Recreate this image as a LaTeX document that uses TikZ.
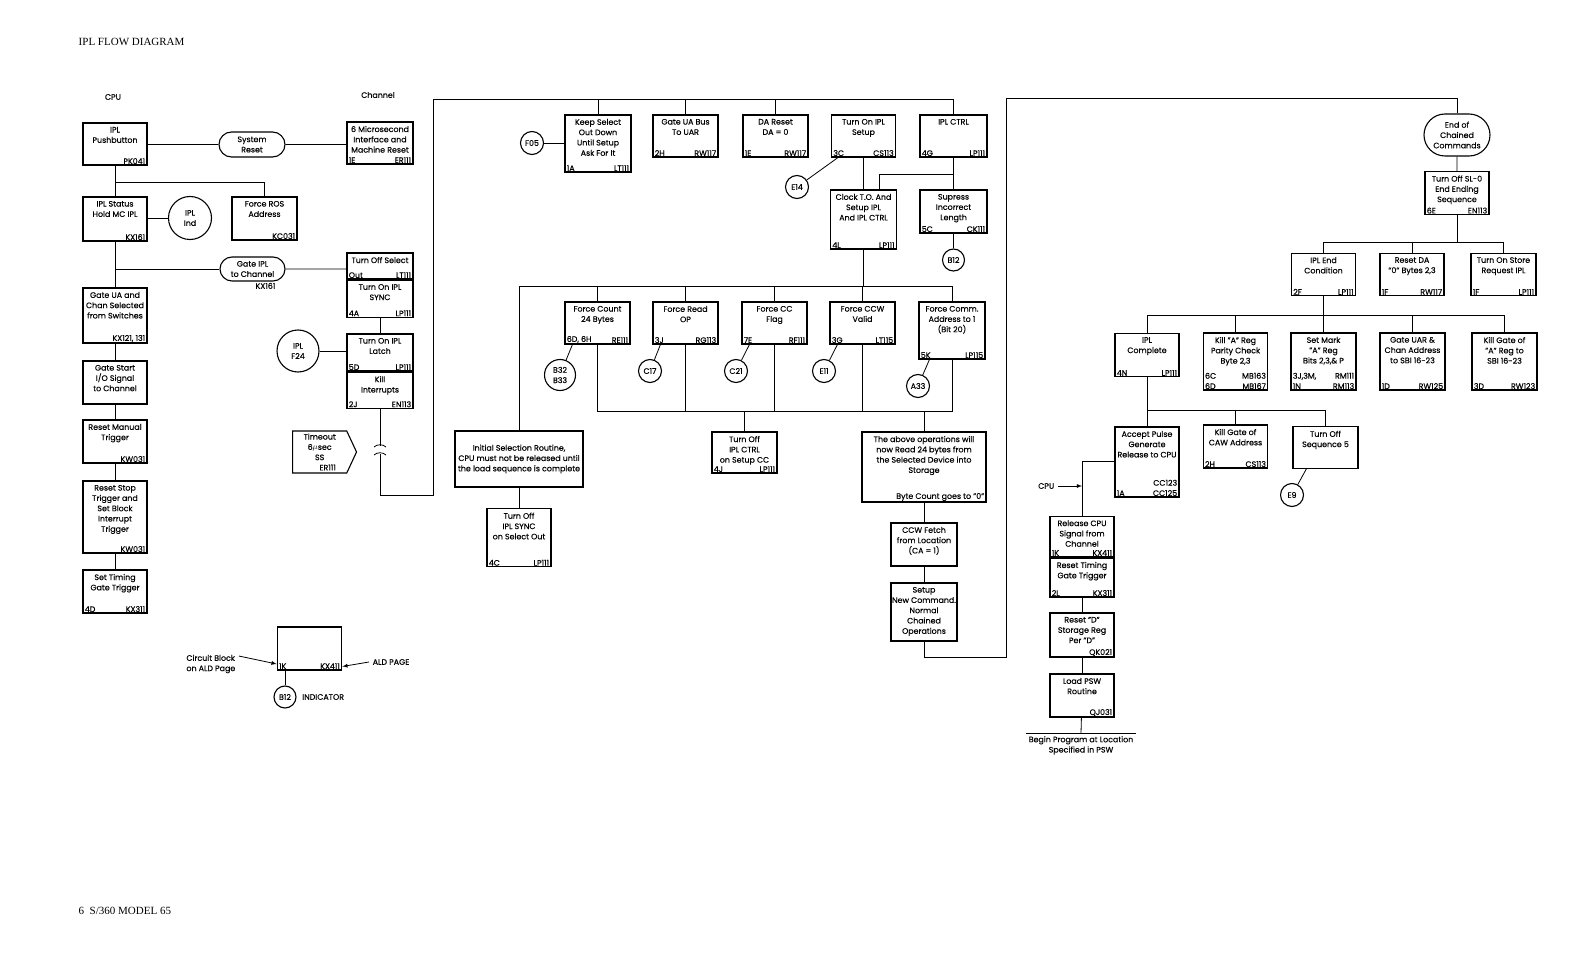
\documentclass[tikz,border=0pt]{standalone}
\usepackage{fontspec}
\setmainfont{Poppins}[FakeBold=0.3]
\newfontfamily\pagefont{Liberation Serif}
\usetikzlibrary{positioning, shapes.misc, shapes.symbols, arrows}

\begin{document}
\begin{tikzpicture}[x=1pt, y=-1pt, line width=0.8pt,
  font=\fontsize{7.9}{10.3}\selectfont,
  blk/.style = {draw, line width=1.2pt, inner sep=0pt},
  bx/.style 2 args = {blk, minimum width=#1, minimum height=#2},
  txt/.style = {anchor=north, align=center, inner sep=1.2pt, yshift=-3pt},
  ltag/.style = {anchor=south west, align=left, inner xsep=2pt, inner ysep=1.2pt},
  rtag/.style = {anchor=south east, align=right, inner xsep=2pt, inner ysep=1.2pt},
  tt/.style = {label={[txt]north:{#1}}},
  tl/.style = {label={[ltag]south west:{#1}}},
  tr/.style = {label={[rtag]south east:{#1}}},
  circ/.style = {draw, circle, line width=1.1pt, minimum size=23pt, inner sep=0pt, align=center},
  oval/.style = {draw, rounded rectangle, line width=1.1pt, inner sep=0pt, align=center}
]
\useasboundingbox (0,0) rectangle (1583,960);

%--- Page texts ---
\node[anchor=west, font=\pagefont\fontsize{11}{13}\selectfont] (title) at (75,41.5) {IPL FLOW DIAGRAM};
\node[anchor=west, font=\pagefont\fontsize{11}{13}\selectfont] (pageNo) at (75,911) {6\enspace S/360 MODEL 65};
\node (cpuHead) at (113,97) {CPU};
\node (chanHead) at (378,95) {Channel};

%--- CPU column ---
% pushbtn
\node[bx={64pt}{42pt}, tt={IPL\\Pushbutton}, tr=PK041] (pushbtn) at (115,144) {};
% iplStatus
\node[bx={64pt}{44pt}, tt={IPL Status\\Hold MC IPL}, tr=KX161] (iplStatus) at (115,219) {};
\node[circ, minimum size=43pt] (iplInd) at (190,218) {IPL\\Ind};
% forceROS
\node[bx={65pt}{43pt}, tt={Force ROS\\Address}, tr=KC031] (forceROS) at (264.5,218.5) {};
% gateUA
\node[bx={64pt}{55pt}, tt={Gate UA and\\Chan Selected\\from Switches}, tr={KX121, 131}] (gateUA) at (115,315.5) {};
\node[bx={64pt}{43pt}, tt={Gate Start\\I/O Signal\\to Channel}] (gateStart) at (115,382.5) {};
\node[bx={64pt}{43pt}, tt={Reset Manual\\Trigger}, tr=KW031] (resetManual) at (115,441.5) {};
\node[bx={64pt}{72pt}, tt={Reset Stop\\Trigger and\\Set Block\\Interrupt\\Trigger}, tr=KW031] (resetStop) at (115,517) {};
\node[bx={64pt}{43pt}, tt={Set Timing\\Gate Trigger}, tl=4D, tr=KX311] (setTiming) at (115,591.5) {};

% ovals
\node[oval, minimum width=66pt, minimum height=25pt] (sysReset) at (252,144.5) {System\\Reset};
\node[oval, minimum width=65pt, minimum height=24pt, label={[inner sep=1pt, xshift=13pt]below:KX161}] (gateIPL) at (252.5,269) {Gate IPL\\to Channel};

%--- Channel column ---
\node[bx={66pt}{42pt}, tt={6 Microsecond\\Interface and\\Machine Reset}, tl=1E, tr=ER111] (sixMicro) at (380,143) {};
\node[bx={66pt}{26pt}, tt={Turn Off Select}, tl=Out, tr=LT111] (selOff) at (380,266) {};
\node[bx={66pt}{37pt}, tt={Turn On IPL\\SYNC}, tl=4A, tr=LP111, below=0pt of selOff] (syncOn) {};
\node[bx={66pt}{37pt}, tt={Turn On IPL\\Latch}, tl=5D, tr=LP111] (latchOn) at (380,352.5) {};
\node[bx={66pt}{36pt}, tt={Kill\\Interrupts}, tl=2J, tr=EN113, below=0pt of latchOn] (killInt) {};
\node[circ, minimum size=42pt] (iplF24) at (298,351) {IPL\\F24};
% timeout
\node[signal, signal to=east, draw, line width=1.1pt, anchor=west, minimum width=64pt, minimum height=42pt,
      signal pointer angle=130, align=center, inner sep=1pt] (timeout) at (292,452) {Timeout\\6$\mu$sec\\SS\\\hspace*{16pt}ER111};

%--- Setup row ---
\node[bx={66pt}{57pt}, tt={Keep Select\\Out Down\\Until Setup\\Ask For It}, tl=1A, tr=LT111] (keepSel) at (598,143.5) {};
\node[circ] (f05) at (532,143) {F05};
\node[bx={65pt}{42pt}, tt={Gate UA Bus\\To UAR}, tl=2H, tr=RW117] (uaBus) at (685.5,136) {};
\node[bx={65pt}{42pt}, tt={DA Reset\\DA = 0}, tl=1E, tr=RW117] (daReset) at (775.5,136) {};
\node[bx={64pt}{42pt}, tt={Turn On IPL\\Setup}, tl=3C, tr=CS113] (setupOn) at (863.5,136) {};
\node[bx={67pt}{42pt}, tt={IPL CTRL}, tl=4G, tr=LP111] (iplCtrl) at (953.5,136) {};
\node[circ] (e14) at (797,187) {E14};
\node[bx={66pt}{59pt}, tt={Clock T.O. And\\Setup IPL\\And IPL CTRL}, tl=4L, tr=LP111] (clockTO) at (863.5,219.5) {};
\node[bx={67pt}{43pt}, tt={Supress\\Incorrect\\Length}, tl=5C, tr=CK111] (supress) at (953.5,211.5) {};
\node[circ, minimum size=22pt] (b12s) at (953.5,260) {B12};

%--- Force row ---
\node[bx={65pt}{42pt}, tt={Force Count\\24 Bytes}, tl={6D, 6H}, tr=RE111] (fCount) at (597.5,323) {};
\node[bx={65pt}{42pt}, tt={Force Read\\OP}, tl=3J, tr=RG113] (fRead) at (685.5,323) {};
\node[bx={65pt}{42pt}, tt={Force CC\\Flag}, tl=7E, tr=RF111] (fCC) at (774.5,323) {};
\node[bx={65pt}{42pt}, tt={Force CCW\\Valid}, tl=3G, tr=LT115] (fCCW) at (862.5,323) {};
\node[bx={66pt}{57pt}, tt={Force Comm.\\Address to 1\\(Bit 20)}, tl=5K, tr=LP115] (fComm) at (952,330.5) {};
\node[circ, minimum size=31pt] (b32) at (560,375) {B32\\B33};
\node[circ] (c17) at (650,371) {C17};
\node[circ] (c21) at (736,371) {C21};
\node[circ] (e11) at (824,371) {E11};
\node[circ] (a33) at (918,386) {A33};

% initial selection
\node[bx={128pt}{56pt}, align=center] (initSel) at (519,459) {Initial Selection Routine,\\CPU must not be released until\\the load sequence is complete};
\node[bx={64pt}{58pt}, tt={Turn Off\\IPL SYNC\\on Select Out}, tl=4C, tr=LP111] (syncOff) at (519,537.7) {};
\node[bx={65pt}{41pt}, tt={Turn Off\\IPL CTRL\\on Setup CC}, tl=4J, tr=LP111] (ctrlOff) at (744.5,452.5) {};
\node[bx={124pt}{70pt}, tt={The above operations will\\now Read 24 bytes from\\the Selected Device into\\Storage}, tr={Byte Count goes to "0"}] (aboveOps) at (924,467) {};
\node[bx={66pt}{43pt}, tt={CCW Fetch\\from Location\\(CA = 1)}] (ccwFetch) at (924,544.5) {};
\node[bx={66pt}{58pt}, tt={Setup\\New Command.\\Normal\\Chained\\Operations}] (setupNew) at (924,612) {};

%--- Ending sequence ---
\node[oval, minimum width=66pt, minimum height=42pt] (endChain) at (1457,135) {End of\\Chained\\Commands};
\node[bx={64pt}{43pt}, tt={Turn Off SL-0\\End Ending\\Sequence}, tl=6E, tr=EN113] (slOff) at (1457,193) {};
\node[bx={64pt}{42.5pt}, tt={IPL End\\Condition}, tl=2F, tr=LP111] (iplEnd) at (1323.5,274.5) {};
\node[bx={64pt}{42.5pt}, tt={Reset DA\\"0" Bytes 2,3}, tl=1F, tr=RW117] (resetDA) at (1412,274.5) {};
\node[bx={65pt}{42.5pt}, tt={Turn On Store\\Request IPL}, tl=1F, tr=LP111] (storeReq) at (1503.5,274.5) {};

\node[bx={64pt}{43.5pt}, tt={IPL\\Complete}, tl=4N, tr=LP111] (iplComplete) at (1147,355) {};
\node[bx={64.5pt}{57pt}, tt={Kill "A" Reg\\Parity Check\\Byte 2,3}, tl={6C\\6D}, tr={MB163\\MB167}] (killA) at (1235.5,361.5) {};
\node[bx={65pt}{57pt}, tt={Set Mark\\"A" Reg\\Bits 2,3,\& P}, tl={3J,3M,\\1N}, tr={RM111\\RM113}] (setMark) at (1323.5,361.5) {};
\node[bx={65pt}{57pt}, tt={Gate UAR \&\\Chan Address\\to SBI 16-23}, tl=1D, tr=RW125] (gateUAR) at (1412.5,361.5) {};
\node[bx={65pt}{57pt}, tt={Kill Gate of\\"A" Reg to\\SBI 16-23}, tl=3D, tr=RW123] (killGateA) at (1504.5,361.5) {};

\node[bx={64pt}{70pt}, tt={Accept Pulse\\Generate\\Release to CPU}, tl=1A, tr={CC123\\CC125}] (acceptPulse) at (1147,462) {};
\node[bx={64.5pt}{43pt}, tt={Kill Gate of\\CAW Address}, tl=2H, tr=CS113] (killCAW) at (1235.5,446.5) {};
\node[bx={65pt}{41.5pt}, tt={Turn Off\\Sequence 5}] (seq5) at (1325.5,447.5) {};
\node[circ] (e9) at (1292,495) {E9};

% release chain
\node[anchor=east] (cpuIn) at (1058,486) {CPU};
\node[bx={64pt}{40.5pt}, tt={Release CPU\\Signal from\\Channel}, tl=1K, tr=KX411] (relCPU) at (1082,536.5) {};
\node[bx={64pt}{39pt}, tt={Reset Timing\\Gate Trigger}, tl=2L, tr=KX311, below=0pt of relCPU] (resetTiming) {};
\node[bx={64pt}{44pt}, tt={Reset "D"\\Storage Reg\\Per "D"}, tr=QK021] (resetD) at (1082,635) {};
\node[bx={64pt}{43pt}, tt={Load PSW\\Routine}, tr=QJ031] (loadPSW) at (1082,695.5) {};
\node[anchor=north, minimum width=101pt, inner sep=2.5pt, align=center] (beginProg) at (1081,733.3) {Begin Program at Location\\Specified in PSW};

%--- Legend ---
\node[bx={64.5pt}{43pt}, tl=1K, tr=KX411] (legBlk) at (309.5,648.5) {};
\node[align=left, anchor=east] (legCirc) at (239,664) {Circuit Block\\on ALD Page};
\node[anchor=west] (legPage) at (369,662) {ALD PAGE};
\node[circ, minimum size=22pt] (b12leg) at (285,697) {B12};
\node[right=2pt of b12leg] (legInd) {INDICATOR};

%--- Coordinates ---
\coordinate (rosTap) at (115,182);
\coordinate (gateTap) at (115,269);
\coordinate (brkTop) at (380,446);
\coordinate (brkBot) at (380,454);
\coordinate (chanLow) at (433,495);
\coordinate (topLeft) at (433,99);
\coordinate (ctrlTap) at (953.5,174);
\coordinate (busB) at (519,286);
\coordinate (busC) at (600,411);
\coordinate (loopLow) at (1006,657);
\coordinate (loopTop) at (1006,98);
\coordinate (busD) at (1323.5,242);
\coordinate (busE) at (1147,315);
\coordinate (busF) at (1147,410);
\coordinate (relTap) at (1082,461);

%--- CPU side lines ---
\draw (pushbtn) -- (iplStatus);
\draw (rosTap) -| (forceROS.north);
\draw (iplStatus.east |- iplInd) -- (iplInd);
\draw (pushbtn.east |- sysReset) -- (sysReset);
\draw (sysReset) -- (sixMicro.west |- sysReset);
\draw (iplStatus) -- (gateUA);
\draw (gateTap) -- (gateIPL);
\draw (gateIPL) -- (selOff.west |- gateIPL);
\draw (gateUA) -- (gateStart);
\draw (gateStart) -- (resetManual);
\draw (resetManual) -- (resetStop);
\draw (resetStop) -- (setTiming);

%--- Channel lines ---
\draw (syncOn) -- (latchOn);
\draw (iplF24) -- (latchOn.west |- iplF24);
\draw (killInt.south) -- (brkTop);
\draw ([xshift=-6pt,yshift=-1pt]brkTop) .. controls ([xshift=-3pt,yshift=2pt]brkTop) and ([xshift=3pt,yshift=2pt]brkTop) .. ([xshift=6pt,yshift=-1pt]brkTop);
\draw ([xshift=-6pt,yshift=-1pt]brkBot) .. controls ([xshift=-3pt,yshift=2pt]brkBot) and ([xshift=3pt,yshift=2pt]brkBot) .. ([xshift=6pt,yshift=-1pt]brkBot);
\draw (brkBot) |- (chanLow) -- (topLeft) -| (iplCtrl.north);
\draw (keepSel) -- (keepSel |- topLeft);
\draw (uaBus) -- (uaBus |- topLeft);
\draw (daReset) -- (daReset |- topLeft);
\draw (f05) -- (keepSel.west |- f05);
\draw (e14) -- ([xshift=7pt]setupOn.south west);
\draw (setupOn) -- (clockTO);
\draw (iplCtrl) -- (supress);
\draw (ctrlTap) -| ([xshift=16pt]clockTO.north);
\draw (supress) -- (b12s);

%--- Force row lines ---
\draw (clockTO) -- (clockTO |- busB);
\draw (initSel.north |- busB) -- (fComm.north |- busB);
\draw (initSel) -- (initSel |- busB);
\draw (fCount) -- (fCount |- busB);
\draw (fRead) -- (fRead |- busB);
\draw (fCC) -- (fCC |- busB);
\draw (fCCW) -- (fCCW |- busB);
\draw (fComm) -- (fComm |- busB);
\draw (b32) -- ([xshift=8pt]fCount.south west);
\draw (c17) -- ([xshift=8pt]fRead.south west);
\draw (c21) -- ([xshift=8pt]fCC.south west);
\draw (e11) -- ([xshift=8pt]fCCW.south west);
\draw (a33) -- ([xshift=11pt]fComm.south west);
\draw (fCount) -- (fCount |- busC) -- (fComm |- busC) -- (fComm);
\draw (fRead) -- (fRead |- busC);
\draw (fCC) -- (fCC |- busC);
\draw (fCCW) -- (fCCW |- busC);
\draw (ctrlOff) -- (ctrlOff |- busC);
\draw (aboveOps) -- (aboveOps |- busC);
\draw (initSel) -- (syncOff);
\draw (aboveOps) -- (ccwFetch);
\draw (ccwFetch) -- (setupNew);
\draw (setupNew) |- (loopLow) -- (loopTop) -| (endChain);

%--- Ending lines ---
\draw (endChain) -- (slOff);
\draw (slOff) -- (slOff |- busD);
\draw (iplEnd.north |- busD) -- (storeReq.north |- busD);
\draw (iplEnd) -- (iplEnd |- busD);
\draw (resetDA) -- (resetDA |- busD);
\draw (storeReq) -- (storeReq |- busD);
\draw (iplEnd) -- (setMark);
\draw (iplComplete.north |- busE) -- (killGateA.north |- busE);
\draw (iplComplete) -- (iplComplete |- busE);
\draw (killA) -- (killA |- busE);
\draw (gateUAR) -- (gateUAR |- busE);
\draw (killGateA) -- (killGateA |- busE);
\draw (iplComplete) -- (iplComplete |- busF) -- (seq5 |- busF) -- (seq5);
\draw (killCAW) -- (killCAW |- busF);
\draw (acceptPulse) -- (acceptPulse |- busF);
\draw (e9) -- ([xshift=14pt]seq5.south west);
\draw (acceptPulse.west |- relTap) -- (relTap) -- (relCPU);
\draw[-latex] (cpuIn) -- (relTap |- cpuIn);
\draw (resetTiming) -- (resetD);
\draw (resetD) -- (loadPSW);
\draw (loadPSW) -- (beginProg.north);
\draw (beginProg.north west) -- (beginProg.north east);

%--- Legend lines ---
\draw[-latex] ([yshift=-5pt]legCirc.north east) -- ([yshift=-15.5pt]legBlk.west);
\draw[-latex] (legPage.west) -- ([yshift=-18pt]legBlk.east);
\draw ([xshift=-24.5pt]legBlk.south) -- (b12leg);

\end{tikzpicture}
\end{document}
